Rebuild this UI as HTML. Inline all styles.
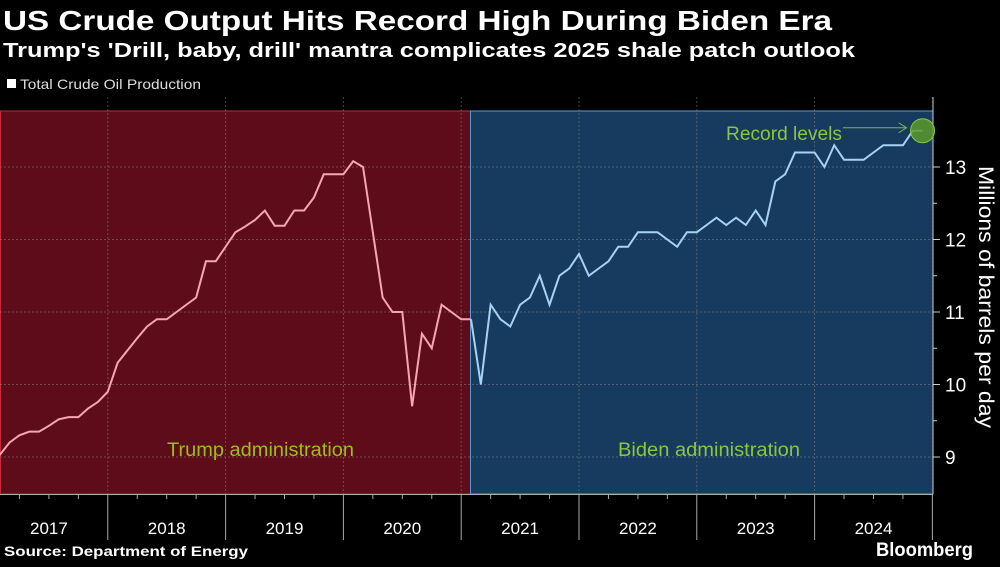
<!DOCTYPE html>
<html><head><meta charset="utf-8"><style>
body{margin:0;background:#000;width:1000px;height:562px;overflow:hidden;font-family:"Liberation Sans",sans-serif;}
</style></head><body>
<svg width="1000" height="562" xmlns="http://www.w3.org/2000/svg" id="svg">
<rect x="0" y="0" width="1000" height="562" fill="#000"/>
<text x="3" y="30" fill="#fff" font-size="28" font-weight="bold" textLength="829" lengthAdjust="spacingAndGlyphs">US Crude Output Hits Record High During Biden Era</text>
<text x="3" y="57" fill="#fff" font-size="20" font-weight="bold" textLength="852" lengthAdjust="spacingAndGlyphs">Trump's 'Drill, baby, drill' mantra complicates 2025 shale patch outlook</text>
<rect x="7" y="79" width="9" height="9" fill="#fff"/>
<text x="20" y="89" fill="#ddd" font-size="14" textLength="181" lengthAdjust="spacingAndGlyphs">Total Crude Oil Production</text>
<g id="plot"></g>
<text x="4" y="556" fill="#fff" font-size="14" font-weight="bold" textLength="244" lengthAdjust="spacingAndGlyphs">Source: Department of Energy</text>
<text x="876" y="556" fill="#fff" font-size="19" font-weight="bold" textLength="97" lengthAdjust="spacingAndGlyphs">Bloomberg</text>
</svg>
<script>
const trumpValues=[8.93,9.03,9.2,9.3,9.35,9.35,9.43,9.52,9.55,9.55,9.67,9.76,9.9,10.3,10.47,10.64,10.8,10.9,10.9,11.0,11.1,11.2,11.7,11.7,11.9,12.1,12.18,12.27,12.4,12.19,12.19,12.4,12.4,12.58,12.9,12.9,12.9,13.08,13.0,12.1,11.2,11.0,11.0,9.7,10.7,10.5,11.1,11.0,10.9,10.9];
const bidenValues=[10.9,10.0,11.1,10.9,10.8,11.1,11.2,11.5,11.1,11.5,11.6,11.8,11.5,11.6,11.7,11.9,11.9,12.1,12.1,12.1,12.0,11.9,12.1,12.1,12.2,12.3,12.2,12.3,12.2,12.4,12.2,12.8,12.9,13.2,13.2,13.2,13.0,13.3,13.1,13.1,13.1,13.2,13.3,13.3,13.3,13.5,13.5];
const bidenStart=49;
const yTicks=[9,10,11,12,13];
const yearLabels=["2017","2018","2019","2020","2021","2022","2023","2024"];
const NS="http://www.w3.org/2000/svg";
const g=document.getElementById('plot');
const top_=111,bot=494,right=933;
const x=m=>-10+m*117.8/12;
const y=v=>457-(v-9)*72.5;
function mk(t,a){const e=document.createElementNS(NS,t);for(const k in a)e.setAttribute(k,a[k]);g.appendChild(e);return e;}
let e;
e=mk('rect',{x:0.5,y:top_,width:470,height:bot-top_,fill:'#5e0c19',stroke:'#c6283a','stroke-width':1});


e=mk('rect',{x:470.5,y:top_,width:right-470.5,height:bot-top_,fill:'#173a5f',stroke:'#5b9bd5','stroke-width':1});


yTicks.forEach(v=>{
 e=mk('line',{x1:0,x2:right,y1:y(v),y2:y(v),stroke:'#888','stroke-opacity':0.5,'stroke-dasharray':'2,2'});
 
 
 e=mk('line',{x1:right,x2:right+7,y1:y(v),y2:y(v),stroke:'#ccc'});
 
 
 e=mk('text',{x:right+12,y:y(v)+7,fill:'#fff','font-size':19});e.textContent=v;
 
 
 if(v<13){e=mk('line',{x1:right,x2:right+4,y1:y(v+0.5),y2:y(v+0.5),stroke:'#ccc'});
 
 }
});
e=mk('line',{x1:right,x2:right,y1:97,y2:bot,stroke:'#ccc'});


yearLabels.forEach((yr,i)=>{
 const xs=x(i*12+12);
 e=mk('line',{x1:xs,x2:xs,y1:97,y2:bot,stroke:'#888','stroke-opacity':0.5,'stroke-dasharray':'2,2'});
 
 
 e=mk('line',{x1:xs,x2:xs,y1:bot,y2:540,stroke:'#aaa'});
 
 
 for(let q=1;q<4;q++){e=mk('line',{x1:x(i*12+q*3),x2:x(i*12+q*3),y1:bot,y2:bot+5,stroke:'#aaa'});
 
 }
 e=mk('text',{x:x(i*12+6),y:534,fill:'#fff','font-size':17,'text-anchor':'middle'});e.textContent=yr;
 
 
});
e=mk('line',{x1:0,x2:right,y1:bot+0.5,y2:bot+0.5,stroke:'#aaa'});


e=mk('polyline',{points:trumpValues.map((v,i)=>x(i)+','+y(v)).join(' '),fill:'none',stroke:'#f4a6b4','stroke-width':2});


e=mk('polyline',{points:bidenValues.map((v,i)=>x(i+bidenStart)+','+y(v)).join(' '),fill:'none',stroke:'#a8d2f4','stroke-width':2});


const li=bidenValues.length-1,lx=x(li+bidenStart),ly=y(bidenValues[li]);
e=mk('circle',{cx:lx,cy:ly,r:12,fill:'#5a9a2a','fill-opacity':0.85,stroke:'#8cc63f','stroke-width':1});


e=mk('line',{x1:843,x2:lx-16,y1:ly-3,y2:ly-3,stroke:'#7ab648'});


e=mk('polyline',{points:`${lx-24},${ly-8} ${lx-16},${ly-3} ${lx-24},${ly+2}`,fill:'none',stroke:'#7ab648'});


e=mk('text',{x:726,y:140,fill:'#8cc63f','font-size':19,textLength:116,lengthAdjust:'spacingAndGlyphs'});e.textContent='Record levels';


e=mk('text',{x:167,y:456,fill:'#9bbf1a','font-size':19,textLength:187,lengthAdjust:'spacingAndGlyphs'});e.textContent='Trump administration';


e=mk('text',{x:618,y:456,fill:'#8cc63f','font-size':19,textLength:182,lengthAdjust:'spacingAndGlyphs'});e.textContent='Biden administration';


e=mk('text',{x:0,y:0,fill:'#fff','font-size':21,'text-anchor':'middle',textLength:262,lengthAdjust:'spacingAndGlyphs',transform:'translate(979,297) rotate(90)'});e.textContent='Millions of barrels per day';


</script>
</body></html>
